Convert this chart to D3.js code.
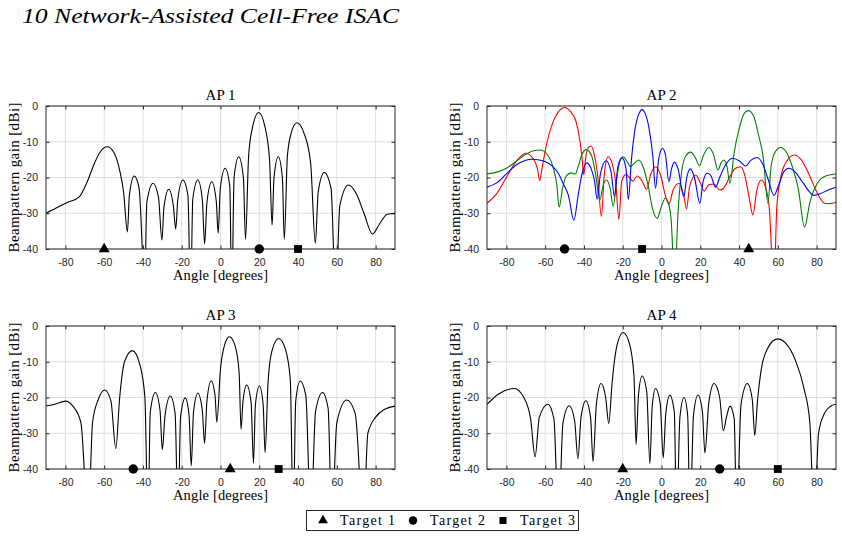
<!DOCTYPE html>
<html>
<head>
<meta charset="utf-8">
<script src="https://cdn.jsdelivr.net/npm/d3@7"></script>
<style>
    body { margin: 0; background: #fff; }
    .tick-label { font-family: "Liberation Sans", Arial, sans-serif; font-size: 10.5px; fill: #262626; }
    .serif { font-family: "Liberation Serif", "Times New Roman", serif; fill: #000; }
</style>
</head>
<body>
<div id="chart"></div>
<script>
// tick labels
const xTicks = [-80, -60, -40, -20, 0, 20, 40, 60, 80];
const yTicks = [0, -10, -20, -30, -40];

// target angles per AP, [triangle, circle, square]
const targetNames = ["Target 1", "Target 2", "Target 3"];
const ap1Targets = [-60, 20, 40];
const ap2Targets = [45, -50, -10];
const ap3Targets = [5, -45, 30];
const ap4Targets = [-20, 30, 60];

// beampattern samples: [angle, gain dBi]
const ap1Gain = [[-90,-30],[-85,-28.6],[-79,-27],[-73,-25.5],[-69,-21.5],[-65,-16],[-62,-12.8],[-58.5,-11.4],[-55,-13],[-52,-18],[-50,-24],[-48,-35.2],
    [-47,-25],[-44.5,-19.6],[-42,-23],[-39.1,-50],
    [-38,-27],[-34.8,-21.6],[-32,-25.5],[-30.2,-37.5],
    [-29.2,-28.5],[-26.7,-23.3],[-24.3,-28],[-23.1,-34.4],
    [-22,-26],[-19.4,-20.7],[-16.8,-25],[-15.4,-55],
    [-14.3,-26],[-11.7,-20.7],[-9.4,-26],[-8.2,-38.6],
    [-7,-27],[-4.5,-21.2],[-2.2,-26.5],[-1.2,-35.6],
    [-0.1,-23],[2.4,-17.4],[4.8,-22.5],[5.8,-55],
    [7,-20],[9.4,-14.2],[11.8,-20],[12.9,-37.3],
    [14.5,-14],[16.5,-6],[19.7,-1.8],[23,-6],[25.3,-15],[26.6,-33.3],
    [27.6,-20],[29.8,-14.2],[31.9,-20],[32.9,-37.3],
    [34.5,-14],[36.5,-7.5],[39.4,-4.7],[43,-7.5],[46.5,-16],[48.9,-38.4],
    [50.4,-24],[53.5,-18.6],[57,-23],[59.5,-55],
    [61.5,-28],[66,-22.1],[70,-24.5],[74,-30],[78.4,-35.8],[82,-33],[86,-30.3],[90,-30]];

const ap2Red = [[-90,-27.2],[-85,-24.5],[-80,-20],[-75,-15.5],[-70,-13.2],[-66.5,-14.5],[-64,-17.5],[-62.8,-20.9],[-61.5,-17],[-59,-10],[-56,-4.5],[-53,-1.5],[-50,-0.4],[-47,-1.5],[-44,-4.5],[-42,-10],[-40.9,-15],[-40.1,-19.3],
    [-39,-14],[-37.5,-11.5],[-36.3,-11.2],[-34.5,-14],[-33,-19],[-31,-30.9],[-29.5,-19],[-27.5,-14.2],[-25.5,-16],[-23.5,-22],[-22,-31.7],
    [-20.5,-21],[-18.5,-19.2],[-16.5,-20],[-14.8,-21],[-12.5,-19.6],[-10,-21],[-7.7,-23.3],[-5.5,-19],[-3,-17],[-0.5,-19.3],[2,-25],[3.8,-27.5],
    [6,-23.5],[9,-21.6],[11.5,-25],[12.9,-28.8],[14.5,-22.5],[17.6,-19.3],[20,-21.5],[22,-23.8],[24.5,-22],[27,-21.8],[30,-23.5],[32,-23],
    [35,-20],[38,-17.5],[40.8,-17],[43,-19.5],[45,-25],[47.2,-30.5],[49,-24],[51.5,-20.7],[53.5,-22.5],[55.5,-28],[58,-50],[59.5,-28],
    [61.5,-20],[64.5,-15.5],[68.3,-13.7],[72,-15],[76,-19],[80,-24],[84,-27.2],[87,-27.3],[90,-27]];

const ap2Green = [[-90,-19],[-85,-18.5],[-80,-17.4],[-75,-15.5],[-70,-13.5],[-66,-12.5],[-62.5,-12.3],[-59,-13.5],[-56,-17],[-54,-22],[-52.8,-28.3],
    [-51,-23],[-49,-19.5],[-46.5,-18.7],[-44.5,-19],[-43,-17],[-41,-13.5],[-38.7,-12.2],[-36,-14],[-34,-19],[-31.8,-26.3],[-30,-22],[-28.4,-20.7],
    [-26.5,-23],[-24.9,-28.1],[-23,-20],[-21.5,-15.5],[-19.8,-14.2],[-17.8,-15.5],[-16,-17],[-14,-16],[-11.7,-15.1],[-9.5,-17],[-7,-22],
    [-4.5,-29],[-2.2,-31.4],[0,-28],[2,-25.8],[3.5,-27],[5,-32],[6.8,-50],[8.5,-30],[10.5,-18],[12.5,-14],[15,-12.9],[17.5,-14.5],[19.6,-16.7],
    [21.5,-14],[24.4,-11.6],[26.8,-13.5],[29.1,-17.9],[30.8,-15.8],[32.2,-15.1],[33.8,-17],[35.3,-21.6],[37.5,-13],[40,-6.5],[42.5,-2.2],
    [44.8,-1.3],[47.5,-2.8],[50,-8],[52.5,-14.5],[54.9,-27.2],[56.5,-17],[58.5,-13],[61.4,-11.6],[64.5,-13],[67.5,-17],[70.5,-23],[73.8,-33.9],
    [76.5,-27],[80.4,-21.6],[85,-19.5],[90,-19]];

const ap2Blue = [[-90,-22.7],[-85,-21.5],[-80,-19],[-75,-16.5],[-70,-15.2],[-67,-14.9],[-63,-15.1],[-59,-15.8],[-55.9,-17],[-53,-19],[-50.8,-21.6],
    [-48,-25],[-45.2,-32],[-43,-25],[-41,-19],[-38.5,-15.9],[-36,-18],[-34.5,-21],[-33.2,-26.1],[-31.5,-19],[-28.6,-15.3],[-26,-18.5],
    [-24.3,-25.2],[-22.5,-17],[-20.3,-14.5],[-18.3,-17.5],[-17.1,-26.1],[-15.5,-15],[-13.5,-6],[-11.5,-2],[-10,-1],[-8.5,-2],[-6.5,-6],
    [-4.5,-14],[-3.1,-23],[-1.5,-15],[0.5,-11.8],[2,-13.5],[3.8,-21.2],[5.2,-17.5],[6.7,-15.7],[8.5,-17.5],[11.5,-25.4],[13,-20],[15,-17.6],
    [17,-20],[19.8,-27.2],[21.5,-21],[23.6,-18.8],[25.5,-19.5],[27.9,-22.7],[30,-20],[33,-16.5],[36.5,-14.6],[40,-15.3],[43.4,-16.8],
    [46,-15.2],[49.4,-14.4],[52,-16],[55,-20.5],[58,-25],[60.5,-22],[63,-18.5],[65.7,-17.4],[69,-18.5],[73,-21.5],[78.7,-25],[82,-24.5],
    [86,-23.5],[90,-22.7]];

const ap3Gain = [[-90,-22.4],[-85,-21.8],[-80,-21],[-76,-22.5],[-72,-27],[-68.2,-55],
    [-66,-27],[-63,-20.5],[-59.7,-17.9],[-56.5,-21],[-54,-34.3],
    [-52,-20],[-49.5,-10],[-45.4,-6.9],[-41.5,-11],[-39,-20],[-37.4,-55],
    [-36.2,-24],[-33.6,-18.6],[-31.2,-23.5],[-30,-34.6],
    [-28.6,-25],[-25.9,-19.6],[-23.4,-24.5],[-21.9,-55],
    [-20.6,-25.5],[-18.2,-20.1],[-16.2,-25],[-15.1,-39.1],
    [-13.9,-24],[-11.7,-18.8],[-9.4,-23.5],[-8.2,-32.8],
    [-7,-21],[-4.8,-15.3],[-2.8,-19.5],[-1.9,-26.9],
    [0,-12],[2,-5.5],[4.6,-3],[7.5,-5.5],[9.6,-13],[10.6,-28.9],
    [11.6,-21],[13.5,-16.5],[15.8,-21.5],[17,-38.4],
    [18,-22],[20.1,-16.8],[22,-22],[23,-35.4],
    [24.5,-16],[26.5,-7],[30,-3.5],[33.5,-6.5],[36,-15],[37.5,-55],
    [38.8,-21],[41.1,-15.4],[44,-19.5],[46.6,-55],
    [49,-24],[52.6,-18.6],[55.5,-23],[57.4,-55],
    [60,-27],[65.1,-20.7],[69.5,-24.5],[73.7,-55],
    [76,-30],[80,-25.5],[85,-23.2],[90,-22.4]];

const ap4Gain = [[-90,-21.9],[-84,-19],[-76,-17.5],[-71,-20],[-67.5,-26],[-65.2,-36.6],
    [-63,-25.5],[-58.6,-21.9],[-55.5,-26],[-53.1,-55],
    [-50.8,-27],[-47.6,-22.3],[-44.8,-26.5],[-43.1,-37.1],
    [-41.5,-25.5],[-39,-20.9],[-36.6,-25.5],[-35.3,-37.9],
    [-33.6,-22],[-31.2,-16.1],[-28.8,-20],[-27.2,-27.3],
    [-25.5,-16],[-23,-5.5],[-19.8,-1.8],[-16.5,-5],[-14.2,-14],[-13.1,-33.1],
    [-11.9,-19.5],[-10,-14],[-7.6,-18.5],[-6,-38.5],
    [-4.8,-22.5],[-3.1,-17.5],[-0.6,-22],[0.9,-36.9],
    [2.2,-24.5],[4.3,-19.4],[6.6,-24],[7.8,-55],
    [9.5,-25.5],[11.6,-20],[13.5,-25],[14.7,-55],
    [16.5,-25],[18.8,-19.3],[21.1,-24],[22.4,-35.5],
    [24.4,-21.5],[27.1,-16.1],[30,-20],[31.9,-29.3],
    [33.5,-25.5],[35.3,-22.4],[37.5,-26],[38.8,-55],
    [41,-22],[44.3,-16.1],[46.8,-20.5],[48.1,-30.6],
    [49.5,-21],[51.5,-12],[54.5,-6.5],[59.8,-3.6],[64,-4.8],[69,-9.5],[73.5,-17.5],[76.5,-27],[78.8,-55],
    [81,-30],[84,-24.5],[87,-22.5],[90,-21.9]];

const panels = [
    {title: "AP 1", left: 46, top: 106, lines: [[ap1Gain, "#000"]], targets: ap1Targets},
    {title: "AP 2", left: 487, top: 106, lines: [[ap2Red, "#ff0000"], [ap2Green, "#008000"], [ap2Blue, "#0000ff"]], targets: ap2Targets},
    {title: "AP 3", left: 46, top: 326, lines: [[ap3Gain, "#000"]], targets: ap3Targets},
    {title: "AP 4", left: 487, top: 326, lines: [[ap4Gain, "#000"]], targets: ap4Targets}
];

const plotW = 349, plotH = 143;
const symbols = [d3.symbolTriangle, d3.symbolCircle, d3.symbolSquare];
const symbolSizes = [52, 70, 62];

const svg = d3.select("#chart").append("svg")
    .attr("width", 842)
    .attr("height", 541);

svg.append("rect").attr("width", 842).attr("height", 541).attr("fill", "#fff");

svg.append("text")
    .attr("class", "serif")
    .attr("x", 22)
    .attr("y", 23)
    .attr("font-size", 22)
    .attr("font-style", "italic")
    .attr("textLength", 377)
    .attr("lengthAdjust", "spacingAndGlyphs")
    .text("10 Network-Assisted Cell-Free ISAC");

const x = d3.scaleLinear().domain([-90, 90]).range([0, plotW]);
const y = d3.scaleLinear().domain([-40, 0]).range([plotH, 0]);

function drawPanel(p, i) {
    let g = svg.append("g").attr("transform", `translate(${p.left},${p.top})`);

    g.append("clipPath").attr("id", "clip" + i)
        .append("rect").attr("width", plotW).attr("height", plotH);

    // grid
    g.selectAll(".vgrid").data(xTicks).enter().append("line")
        .attr("x1", d => x(d)).attr("x2", d => x(d))
        .attr("y1", 0).attr("y2", plotH)
        .attr("stroke", "#dfdfdf").attr("stroke-width", 1);
    g.selectAll(".hgrid").data(yTicks).enter().append("line")
        .attr("x1", 0).attr("x2", plotW)
        .attr("y1", d => y(d)).attr("y2", d => y(d))
        .attr("stroke", "#dfdfdf").attr("stroke-width", 1);

    // axes, ticks pointing inwards on all four sides
    let bottom = g.append("g").attr("transform", `translate(0,${plotH})`)
        .call(d3.axisBottom(x).tickValues(xTicks).tickFormat(d => String(d))
            .tickSizeInner(-3.5).tickSizeOuter(0).tickPadding(10));
    let left = g.append("g")
        .call(d3.axisLeft(y).tickValues(yTicks).tickFormat(d => String(d))
            .tickSizeInner(-3.5).tickSizeOuter(0).tickPadding(8));
    g.append("g").call(d3.axisTop(x).tickValues(xTicks).tickSizeInner(-3.5).tickSizeOuter(0).tickFormat(""));
    g.append("g").attr("transform", `translate(${plotW},0)`)
        .call(d3.axisRight(y).tickValues(yTicks).tickSizeInner(-3.5).tickSizeOuter(0).tickFormat(""));

    g.selectAll(".domain").remove();
    g.selectAll(".tick line").attr("stroke", "#262626");
    [bottom, left].forEach(a => a.selectAll(".tick text")
        .attr("class", "tick-label")
        .attr("font-family", null).attr("font-size", null)
        .attr("fill", null));

    // curves
    let line = d3.line()
        .x(d => x(d[0]))
        .y(d => y(d[1]))
        .curve(d3.curveMonotoneX);

    g.append("g").attr("clip-path", `url(#clip${i})`)
        .selectAll("path").data(p.lines).enter().append("path")
        .attr("d", d => line(d[0]))
        .attr("fill", "none")
        .attr("stroke", d => d[1])
        .attr("stroke-width", 1.1);

    // box
    g.append("rect")
        .attr("width", plotW).attr("height", plotH)
        .attr("fill", "none").attr("stroke", "#262626").attr("stroke-width", 1);

    // targets on the -40 line
    g.selectAll(".target").data(p.targets).enter().append("path")
        .attr("transform", d => `translate(${x(d)},${y(-40)})`)
        .attr("d", (d, k) => d3.symbol().type(symbols[k]).size(symbolSizes[k])())
        .attr("fill", "#000");

    // labels
    g.append("text").attr("class", "serif")
        .attr("x", plotW / 2).attr("y", -6)
        .attr("text-anchor", "middle").attr("font-size", 15)
        .text(p.title);
    g.append("text").attr("class", "serif")
        .attr("x", plotW / 2).attr("y", plotH + 31)
        .attr("text-anchor", "middle").attr("font-size", 14.5)
        .attr("textLength", 95)
        .text("Angle [degrees]");
    g.append("text").attr("class", "serif")
        .attr("transform", `translate(-27,${plotH / 2}) rotate(-90)`)
        .attr("text-anchor", "middle").attr("font-size", 15)
        .attr("textLength", 150)
        .text("Beampattern gain [dBi]");
}

panels.forEach(drawPanel);

// legend
const legendX = [323, 413, 503];
let legend = svg.append("g");
legend.append("rect")
    .attr("x", 306.5).attr("y", 510.5)
    .attr("width", 272).attr("height", 20)
    .attr("fill", "#fff").attr("stroke", "#262626").attr("stroke-width", 1);
legend.selectAll(".lsym").data(targetNames).enter().append("path")
    .attr("transform", (d, k) => `translate(${legendX[k]},${520.5})`)
    .attr("d", (d, k) => d3.symbol().type(symbols[k]).size(symbolSizes[k] * 0.8)())
    .attr("fill", "#000");
legend.selectAll(".ltext").data(targetNames).enter().append("text")
    .attr("class", "serif")
    .attr("x", (d, k) => legendX[k] + 17)
    .attr("y", 525)
    .attr("font-size", 14)
    .attr("textLength", 55)
    .text(d => d);
</script>
</body>
</html>
